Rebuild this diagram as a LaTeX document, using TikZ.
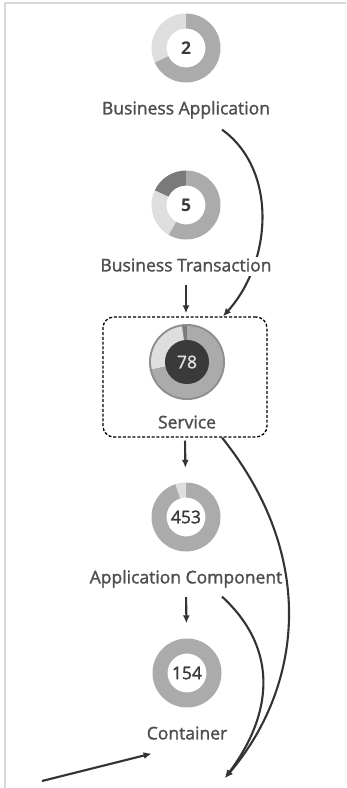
\documentclass[tikz,border=0pt]{standalone}
\usepackage{fontspec}
\setmainfont{Open Sans}[UprightFeatures={FakeBold=1.4}]
\usetikzlibrary{arrows.meta,positioning,calc,backgrounds}
\definecolor{ringmid}{HTML}{ABABAB}
\definecolor{ringlight}{HTML}{DEDEDE}
\definecolor{ringdark}{HTML}{7A7A7A}
\definecolor{txtgray}{HTML}{4E4E4E}
\definecolor{numgray}{HTML}{3A3A3A}
\definecolor{linegray}{HTML}{333333}
\definecolor{framegray}{HTML}{D6D9DD}
\newcommand{\rOut}{34.5pt}
\newcommand{\rIn}{19.5pt}
% one coloured piece of a ring round node #1, from angle #2 to #3
\newcommand{\donutpart}[4]{%
  \fill[#4] ($(#1)+(#2:\rOut)$) arc[start angle=#2, end angle=#3, radius=\rOut]
    -- ($(#1)+(#3:\rIn)$) arc[start angle=#3, end angle=#2, radius=\rIn] -- cycle;}

\begin{document}
\begin{tikzpicture}[x=1pt, y=-1pt, font=\fontsize{17.5}{20}\selectfont,
  donut/.style={circle, minimum size=69pt, inner sep=0pt, text=numgray},
  lbl/.style={fill=white, text=txtgray, inner sep=1pt, text height=13pt, text depth=4pt},
  conn/.style={draw=linegray, line width=2.1pt, -{Latex[length=8pt,width=7pt]}},
  groupbox/.style={draw=black, line width=1.3pt, dash pattern=on 3pt off 1.8pt,
    rounded corners=11pt, minimum width=164pt, minimum height=120pt}]
\useasboundingbox (0,0) rectangle (346,788);
\draw[framegray, line width=2pt] (5,788) -- (5,3) -- (346,3);

\node[donut, font=\fontsize{17.5}{20}\selectfont\bfseries] (ba) at (186,48) {2};
\node[lbl, below=17.5pt of ba] (balbl) {Business Application};
\node[donut, font=\fontsize{17.5}{20}\selectfont\bfseries] (bt) at (186,205) {5};
\node[lbl, below=17.5pt of bt] (btlbl) {Business Transaction};
\node[donut, text=ringlight] (svc) at (187,362) {78};
\node[lbl, below=17.5pt of svc] (svclbl) {Service};
\node[groupbox] (svcbox) at (185,377) {};
\node[donut] (ac) at (186,517) {453};
\node[lbl, below=17.5pt of ac] (aclbl) {Application Component};
\node[donut] (ct) at (187,673) {154};
\node[lbl, below=17.5pt of ct] (ctlbl) {Container};

\coordinate (sink) at (225,778);
\coordinate (src) at (42,781);

\begin{scope}[on background layer]
  % rings
  \donutpart{ba}{90}{205}{ringlight}
  \donutpart{ba}{205}{450}{ringmid}
  \donutpart{bt}{90}{155}{ringdark}
  \donutpart{bt}{155}{240}{ringlight}
  \donutpart{bt}{240}{450}{ringmid}
  \fill[ringdark!85] (svc) circle[radius=38pt];
  \fill[ringdark] ($(svc)+(90:36pt)$) arc[start angle=90, end angle=98, radius=36pt]
    -- ($(svc)+(98:22pt)$) arc[start angle=98, end angle=90, radius=22pt] -- cycle;
  \fill[ringlight] ($(svc)+(98:36pt)$) arc[start angle=98, end angle=192, radius=36pt]
    -- ($(svc)+(192:22pt)$) arc[start angle=192, end angle=98, radius=22pt] -- cycle;
  \fill[ringmid] ($(svc)+(192:36pt)$) arc[start angle=192, end angle=450, radius=36pt]
    -- ($(svc)+(90:22pt)$) arc[start angle=450, end angle=192, radius=22pt] -- cycle;
  \fill[numgray] (svc) circle[radius=22pt];
  \donutpart{ac}{90}{108}{ringlight}
  \donutpart{ac}{108}{450}{ringmid}
  \donutpart{ct}{90}{450}{ringmid}
  % connectors
  \draw[conn] ([shift={(36,10)}]balbl.south) .. controls (278,170) and (272,262) .. ([xshift=38pt]svcbox.north);
  \draw[conn, shorten <=8.5pt, shorten >=3pt] (btlbl.south) -- (btlbl.south |- svcbox.north);
  \draw[conn, shorten <=3pt, shorten >=14.5pt] (svcbox.south) -- (ac);
  \draw[conn, shorten <=8.5pt, shorten >=15pt] (aclbl.south) -- (ct);
  \draw[conn] ([xshift=37pt]svcbox.south) .. controls (320,560) and (300,690) .. (sink);
  \draw[conn] ([shift={(36,8)}]aclbl.south) .. controls (280,650) and (272,715) .. (sink);
  \draw[conn] (src) -- ([shift={(6,9)}]ctlbl.south west);
\end{scope}
\end{tikzpicture}
\end{document}
